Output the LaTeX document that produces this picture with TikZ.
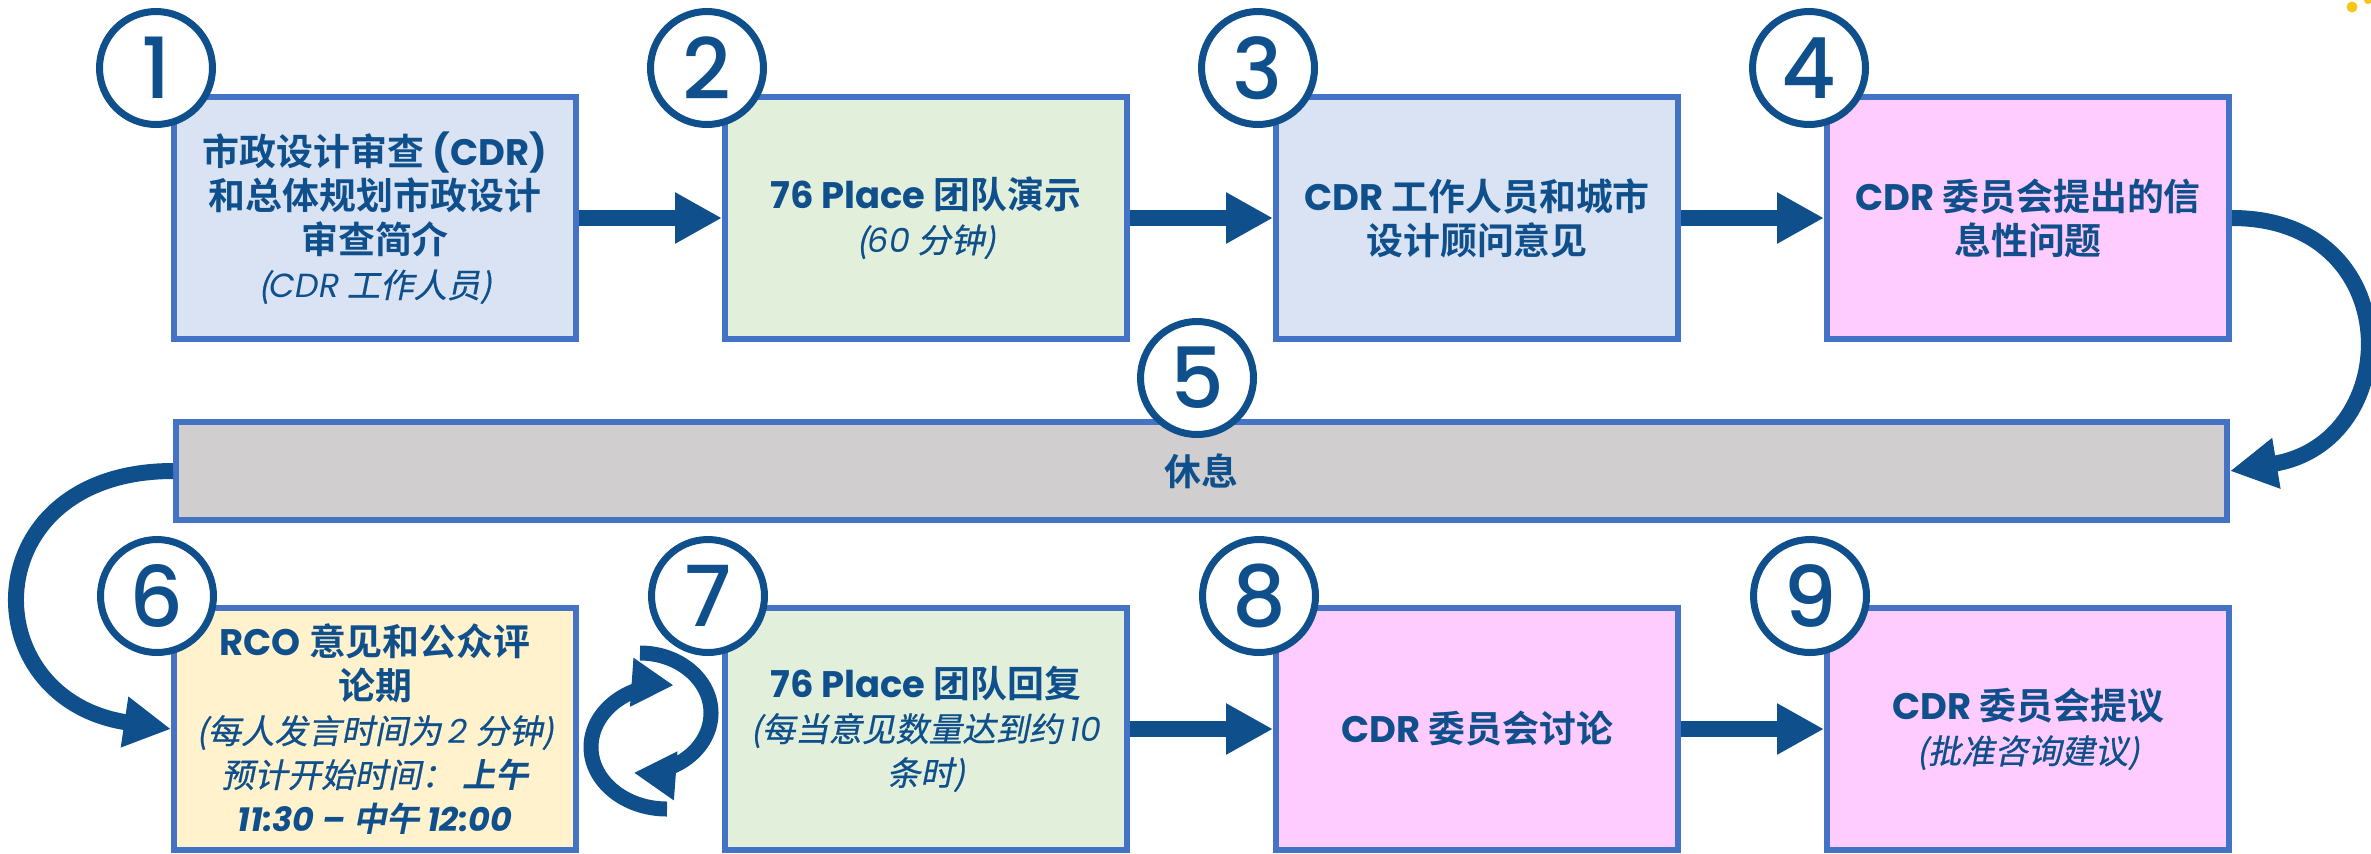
\documentclass[tikz,border=0pt]{standalone}
\usepackage{fontspec}
\setmainfont{Noto Sans CJK SC}[
  BoldFont={Noto Sans CJK SC Bold},
  ItalicFont={Noto Sans CJK SC},
  ItalicFeatures={FakeSlant=0.2,FakeBold=0.6},
  BoldItalicFont={Noto Sans CJK SC Bold},
  BoldItalicFeatures={FakeSlant=0.2}
]
\newfontfamily\latin{Poppins}
\newfontfamily\numfont{Poppins Medium}
\usepackage{tikz}
\usetikzlibrary{calc,arrows.meta,positioning}
\definecolor{navy}{RGB}{14,79,140}
\definecolor{edgeblue}{RGB}{68,114,196}
\definecolor{paleblue}{RGB}{218,227,243}
\definecolor{palegreen}{RGB}{226,239,218}
\definecolor{palepink}{RGB}{255,204,255}
\definecolor{paleyellow}{RGB}{255,242,204}
\definecolor{breakgray}{RGB}{208,206,206}
\definecolor{sun}{RGB}{245,197,24}
\tikzset{
  stepbox/.style={draw=edgeblue,line width=0.06cm,minimum width=4.02cm,
    minimum height=2.42cm,align=center,text=navy,inner sep=0pt,
    font=\bfseries\fontsize{10.5}{12.5}\selectfont},
  numcirc/.style={circle,draw=navy,line width=0.07cm,fill=white,
    minimum size=1.13cm,inner sep=0pt,text=navy,
    font=\numfont\fontsize{24}{24}\selectfont},
  flow/.style={draw=navy,line width=0.16cm,
    -{Triangle[length=0.47cm,width=0.48cm]}},
  cyc/.style={draw=navy,line width=0.15cm,
    -{Triangle[length=0.42cm,width=0.46cm]}}
}
\newcommand\lat[1]{{\latin #1}}
\newcommand\note[1]{{\mdseries\itshape\fontsize{9.5}{12}\selectfont #1}}
\newcommand\bnote[1]{{\itshape\fontsize{9.5}{12}\selectfont #1}}

\begin{document}
\begin{tikzpicture}
  \useasboundingbox (0,0) rectangle (23.71,8.53);

  % Top row
  \node[stepbox,fill=paleblue] (b1) at (3.75,6.35)
    {市政设计审查 \lat{(CDR)}\\和总体规划市政设计\\审查简介\\\note{(\lat{CDR} 工作人员)}};
  \node[stepbox,fill=palegreen,right=1.43cm of b1] (b2)
    {\lat{76 Place} 团队演示\\\note{(\lat{60} 分钟)}};
  \node[stepbox,fill=paleblue,right=1.43cm of b2] (b3)
    {\lat{CDR} 工作人员和城市\\设计顾问意见};
  \node[stepbox,fill=palepink,right=1.43cm of b3] (b4)
    {\lat{CDR} 委员会提出的信\\息性问题};

  % Break
  \node[stepbox,fill=breakgray,minimum width=20.51cm,minimum height=0.98cm]
    (brk) at (12.015,3.82) {休息};

  % Bottom row
  \node[stepbox,fill=paleyellow] (b6) at (3.75,1.24)
    {\lat{RCO} 意见和公众评\\论期\\
     \note{(每人发言时间为 \lat{2} 分钟)}\\
     \note{预计开始时间：}\bnote{ 上午}\\
     \bnote{\lat{11:30 –} 中午 \lat{12:00}}};
  \node[stepbox,fill=palegreen,right=1.43cm of b6] (b7)
    {\lat{76 Place} 团队回复\\\note{(每当意见数量达到约 \lat{10}}\\\note{条时)}};
  \node[stepbox,fill=palepink,right=1.43cm of b7] (b8)
    {\lat{CDR} 委员会讨论};
  \node[stepbox,fill=palepink,right=1.43cm of b8] (b9)
    {\lat{CDR} 委员会提议\\\note{(批准咨询建议)}};

  % Numbers
  \foreach \n in {1,2,3,4}
    \node[numcirc] (c\n) at ($(b\n.north west)+(-0.15,0.26)$) {\n};
  \foreach \n in {6,7,8,9}
    \node[numcirc] (c\n) at ($(b\n.north west)+(-0.14,0.09)$) {\n};
  \node[numcirc] (c5) at ($(brk.north)+(-0.045,0.41)$) {5};

  % Flow
  \draw[flow] (b1) -- (b2);
  \draw[flow] (b2) -- (b3);
  \draw[flow] (b3) -- (b4);
  \draw[flow] (b7) -- (b8);
  \draw[flow] (b8) -- (b9);
  \draw[flow] (b4.east) .. controls +(1.76,0) and +(1.76,0.29) .. (brk.east);
  \draw[flow] (brk.west) .. controls +(-2.0,0) and +(-2.0,0.3) .. (b6.west);

  % Repeat loop between 6 and 7
  \draw[cyc] (6.40,2.00) arc[start angle=90,end angle=-95,x radius=0.71cm,y radius=0.60cm];
  \draw[cyc] (6.67,0.44) arc[start angle=270,end angle=85,x radius=0.76cm,y radius=0.62cm];

  % corner speck
  \fill[sun] (23.52,8.46) circle (0.055);
  \fill[sun] (23.68,8.53) circle (0.04);
\end{tikzpicture}
\end{document}
